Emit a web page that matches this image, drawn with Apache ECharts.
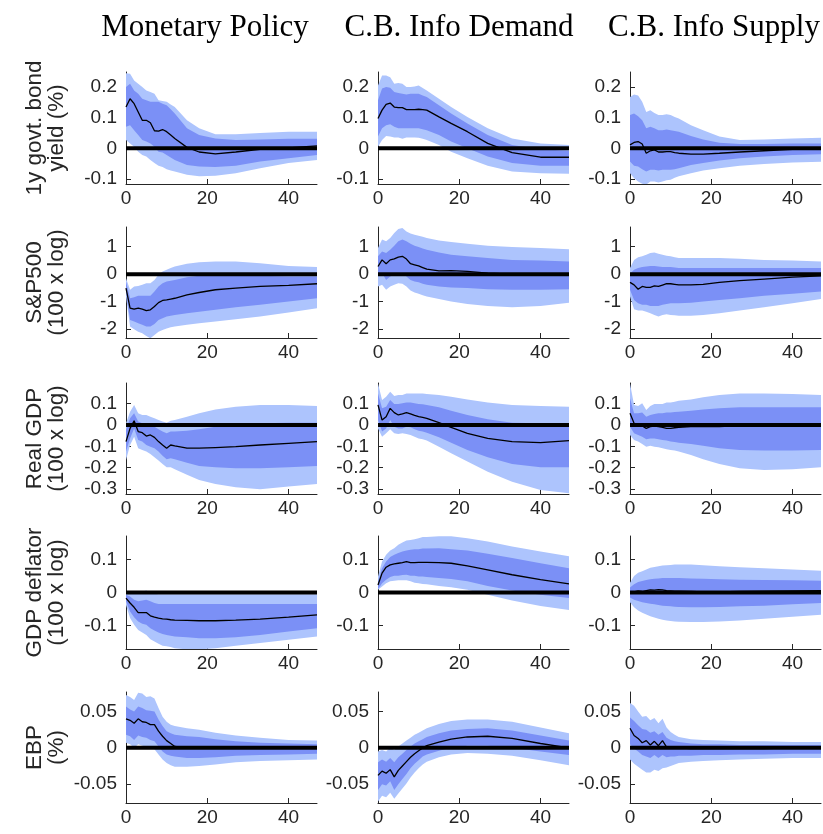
<!DOCTYPE html>
<html>
<head>
<meta charset="utf-8">
<script src="https://cdn.jsdelivr.net/npm/echarts@6/dist/echarts.min.js"></script>
<style>
html, body { margin: 0; padding: 0; background: #ffffff; }
#main { width: 823px; height: 834px; }
</style>
</head>
<body>
<div id="main"></div>
<script>
// Impulse responses: horizon (months) for every series below
const horizons = [0, 1, 2, 3, 4, 5, 6, 7, 8, 9, 10, 11, 12, 15, 18, 22, 27, 33, 40, 47];

const shocks = ['Monetary Policy', 'C.B. Info Demand', 'C.B. Info Supply'];
const variables = ['1y govt. bond\nyield (%)', 'S&P500\n(100 x log)', 'Real GDP\n(100 x log)', 'GDP deflator\n(100 x log)', 'EBP\n(%)'];

const xTicks = [0, 20, 40];
const yTicks = [
  [-0.1, 0, 0.1, 0.2],
  [-2, -1, 0, 1],
  [-0.3, -0.2, -0.1, 0, 0.1],
  [-0.1, 0, 0.1],
  [-0.05, 0, 0.05]
];
const yLimits = [
  [-0.116, 0.248],
  [-2.33, 1.72],
  [-0.324, 0.197],
  [-0.172, 0.172],
  [-0.076, 0.077]
];

// ---- 1y government bond yield ----
const yieldMP_med  = [0.134,0.161,0.145,0.118,0.091,0.091,0.083,0.057,0.056,0.061,0.054,0.043,0.032,0.003,-0.012,-0.018,-0.012,-0.003,0.001,0.008];
const yieldMP_hi90 = [0.244,0.242,0.22,0.21,0.199,0.188,0.183,0.177,0.156,0.154,0.151,0.142,0.134,0.091,0.065,0.046,0.046,0.05,0.054,0.054];
const yieldMP_hi68 = [0.199,0.21,0.188,0.177,0.161,0.156,0.151,0.151,0.151,0.145,0.14,0.127,0.113,0.065,0.043,0.032,0.027,0.029,0.031,0.031];
const yieldMP_lo68 = [0.07,0.075,0.059,0.043,0.027,0.022,0.016,0.005,-0.011,-0.014,-0.022,-0.03,-0.038,-0.054,-0.059,-0.061,-0.057,-0.043,-0.032,-0.022];
const yieldMP_lo90 = [0.027,0.016,0.005,-0.011,-0.022,-0.027,-0.038,-0.048,-0.057,-0.061,-0.068,-0.072,-0.075,-0.086,-0.091,-0.089,-0.081,-0.065,-0.048,-0.038];

const yieldCBD_med  = [0.097,0.124,0.143,0.147,0.134,0.132,0.132,0.126,0.126,0.126,0.127,0.126,0.124,0.102,0.081,0.054,0.016,-0.014,-0.029,-0.029];
const yieldCBD_hi90 = [0.204,0.237,0.237,0.231,0.21,0.212,0.21,0.199,0.199,0.201,0.204,0.196,0.188,0.161,0.134,0.102,0.065,0.032,0.016,0.011];
const yieldCBD_hi68 = [0.156,0.194,0.199,0.197,0.183,0.18,0.177,0.175,0.177,0.177,0.177,0.172,0.167,0.14,0.113,0.081,0.043,0.011,-0.003,-0.008];
const yieldCBD_lo68 = [0.038,0.065,0.075,0.078,0.07,0.065,0.065,0.065,0.065,0.065,0.065,0.062,0.059,0.043,0.022,0.0,-0.027,-0.048,-0.057,-0.057];
const yieldCBD_lo90 = [0.005,0.027,0.04,0.038,0.035,0.035,0.031,0.035,0.035,0.035,0.034,0.031,0.027,0.011,-0.011,-0.032,-0.057,-0.075,-0.081,-0.083];

const yieldCBS_med  = [0.011,0.019,0.022,0.014,-0.016,-0.008,-0.005,-0.012,-0.012,-0.011,-0.011,-0.014,-0.016,-0.019,-0.019,-0.016,-0.012,-0.008,-0.003,0.0];
const yieldCBS_hi90 = [0.167,0.175,0.172,0.151,0.118,0.124,0.115,0.108,0.108,0.111,0.108,0.102,0.097,0.075,0.059,0.038,0.027,0.029,0.032,0.034];
const yieldCBS_hi68 = [0.108,0.113,0.104,0.091,0.065,0.07,0.065,0.059,0.059,0.061,0.059,0.056,0.054,0.04,0.029,0.018,0.014,0.014,0.016,0.016];
const yieldCBS_lo68 = [-0.043,-0.057,-0.059,-0.068,-0.075,-0.07,-0.07,-0.072,-0.07,-0.07,-0.07,-0.068,-0.065,-0.054,-0.048,-0.04,-0.032,-0.027,-0.022,-0.019];
const yieldCBS_lo90 = [-0.081,-0.097,-0.108,-0.115,-0.118,-0.108,-0.108,-0.111,-0.108,-0.104,-0.102,-0.096,-0.091,-0.081,-0.072,-0.065,-0.057,-0.051,-0.046,-0.044];

// ---- S&P500 ----
const spMP_med  = [-0.51,-1.24,-1.28,-1.24,-1.28,-1.33,-1.30,-1.18,-1.04,-0.96,-0.94,-0.91,-0.88,-0.76,-0.67,-0.57,-0.51,-0.45,-0.41,-0.35];
const spMP_hi90 = [-0.15,-0.57,-0.45,-0.43,-0.39,-0.33,-0.33,-0.21,-0.02,0.10,0.16,0.22,0.28,0.38,0.43,0.46,0.46,0.40,0.30,0.26];
const spMP_hi68 = [-0.27,-0.88,-0.84,-0.79,-0.79,-0.79,-0.79,-0.63,-0.45,-0.33,-0.27,-0.24,-0.21,-0.11,-0.06,-0.02,-0.02,-0.06,-0.09,-0.09];
const spMP_lo68 = [-0.63,-1.67,-1.73,-1.79,-1.85,-1.91,-1.91,-1.82,-1.67,-1.61,-1.55,-1.52,-1.49,-1.43,-1.37,-1.30,-1.21,-1.12,-1.00,-0.88];
const spMP_lo90 = [-0.82,-1.91,-2.01,-2.10,-2.16,-2.26,-2.34,-2.22,-2.10,-2.04,-1.98,-1.94,-1.91,-1.85,-1.79,-1.73,-1.65,-1.55,-1.40,-1.24];

const spCBD_med  = [0.28,0.52,0.38,0.52,0.56,0.62,0.65,0.55,0.38,0.34,0.30,0.24,0.18,0.12,0.13,0.10,0.04,0.00,0.00,0.00];
const spCBD_hi90 = [0.95,1.26,1.20,1.32,1.50,1.65,1.68,1.56,1.48,1.44,1.40,1.36,1.32,1.23,1.17,1.11,1.04,0.99,0.95,0.91];
const spCBD_hi68 = [0.65,0.83,0.77,0.89,1.04,1.20,1.26,1.20,1.11,1.04,0.99,0.94,0.89,0.79,0.71,0.65,0.59,0.52,0.50,0.46];
const spCBD_lo68 = [-0.09,0.04,-0.21,-0.09,-0.02,0.04,0.04,-0.09,-0.21,-0.27,-0.30,-0.35,-0.39,-0.45,-0.49,-0.51,-0.55,-0.57,-0.57,-0.55];
const spCBD_lo90 = [-0.45,-0.39,-0.57,-0.45,-0.39,-0.33,-0.35,-0.45,-0.60,-0.67,-0.72,-0.77,-0.82,-0.91,-1.00,-1.09,-1.16,-1.21,-1.16,-1.04];

const spCBS_med  = [-0.30,-0.39,-0.55,-0.45,-0.48,-0.48,-0.43,-0.45,-0.40,-0.35,-0.35,-0.37,-0.39,-0.39,-0.37,-0.30,-0.24,-0.18,-0.11,-0.06];
const spCBS_hi90 = [0.22,0.52,0.62,0.65,0.71,0.77,0.79,0.74,0.71,0.67,0.65,0.62,0.59,0.59,0.59,0.59,0.56,0.52,0.50,0.46];
const spCBS_hi68 = [0.01,0.16,0.22,0.26,0.28,0.30,0.30,0.28,0.26,0.26,0.26,0.24,0.22,0.22,0.22,0.22,0.22,0.22,0.22,0.22];
const spCBS_lo68 = [-0.57,-0.94,-1.06,-1.12,-1.12,-1.16,-1.16,-1.16,-1.12,-1.09,-1.06,-1.06,-1.06,-1.04,-1.00,-0.94,-0.88,-0.79,-0.72,-0.63];
const spCBS_lo90 = [-0.82,-1.28,-1.33,-1.33,-1.37,-1.43,-1.49,-1.55,-1.49,-1.46,-1.49,-1.50,-1.52,-1.52,-1.49,-1.43,-1.33,-1.21,-1.06,-0.91];

// ---- Real GDP ----
const gdpMP_med  = [-0.078,-0.016,0.02,-0.031,-0.036,-0.052,-0.047,-0.058,-0.078,-0.094,-0.109,-0.094,-0.098,-0.109,-0.109,-0.106,-0.102,-0.094,-0.086,-0.078];
const gdpMP_hi90 = [0.008,0.062,0.094,0.055,0.047,0.047,0.039,0.031,0.023,0.016,0.011,0.02,0.023,0.039,0.055,0.073,0.086,0.094,0.094,0.089];
const gdpMP_hi68 = [-0.023,0.031,0.055,0.016,0.008,0.005,0.0,-0.008,-0.02,-0.031,-0.039,-0.031,-0.031,-0.027,-0.02,-0.008,0.0,0.008,0.011,0.011];
const gdpMP_lo68 = [-0.125,-0.063,-0.016,-0.07,-0.078,-0.094,-0.102,-0.109,-0.125,-0.145,-0.161,-0.156,-0.161,-0.177,-0.192,-0.198,-0.203,-0.203,-0.198,-0.192];
const gdpMP_lo90 = [-0.164,-0.094,-0.055,-0.109,-0.117,-0.125,-0.136,-0.152,-0.167,-0.183,-0.198,-0.198,-0.208,-0.234,-0.258,-0.277,-0.292,-0.302,-0.289,-0.277];

const gdpCBD_med  = [0.094,0.023,0.039,0.078,0.058,0.047,0.052,0.058,0.052,0.045,0.039,0.036,0.031,0.011,-0.011,-0.039,-0.063,-0.078,-0.083,-0.073];
const gdpCBD_hi90 = [0.195,0.117,0.133,0.156,0.136,0.141,0.141,0.148,0.148,0.148,0.148,0.148,0.145,0.141,0.133,0.12,0.105,0.094,0.089,0.086];
const gdpCBD_hi68 = [0.148,0.078,0.086,0.117,0.098,0.098,0.102,0.105,0.105,0.102,0.098,0.097,0.094,0.083,0.067,0.047,0.027,0.011,0.008,0.008];
const gdpCBD_lo68 = [0.023,-0.031,-0.016,0.023,-0.008,-0.016,-0.016,-0.008,-0.011,-0.02,-0.027,-0.031,-0.036,-0.058,-0.083,-0.117,-0.152,-0.183,-0.198,-0.198];
const gdpCBD_lo90 = [-0.016,-0.055,-0.039,-0.02,-0.039,-0.042,-0.039,-0.042,-0.047,-0.055,-0.063,-0.067,-0.073,-0.102,-0.133,-0.172,-0.219,-0.266,-0.305,-0.32];

const gdpCBS_med  = [0.055,0.008,0.0,-0.005,-0.016,-0.008,-0.005,-0.008,-0.011,-0.016,-0.016,-0.013,-0.011,-0.008,-0.008,-0.008,-0.003,0.0,0.0,0.0];
const gdpCBS_hi90 = [0.195,0.094,0.089,0.102,0.07,0.089,0.098,0.098,0.098,0.105,0.105,0.109,0.114,0.12,0.13,0.141,0.148,0.148,0.145,0.141];
const gdpCBS_hi68 = [0.125,0.055,0.055,0.058,0.039,0.047,0.052,0.055,0.055,0.058,0.058,0.061,0.062,0.067,0.073,0.078,0.083,0.083,0.083,0.083];
const gdpCBS_lo68 = [-0.008,-0.039,-0.047,-0.055,-0.067,-0.063,-0.063,-0.067,-0.07,-0.073,-0.078,-0.08,-0.083,-0.089,-0.098,-0.109,-0.117,-0.12,-0.12,-0.117];
const gdpCBS_lo90 = [-0.047,-0.07,-0.078,-0.089,-0.102,-0.098,-0.102,-0.105,-0.109,-0.114,-0.117,-0.12,-0.125,-0.141,-0.161,-0.183,-0.203,-0.211,-0.208,-0.198];

// ---- GDP deflator ----
const defMP_med  = [-0.017,-0.032,-0.045,-0.061,-0.061,-0.061,-0.071,-0.075,-0.078,-0.08,-0.081,-0.083,-0.084,-0.085,-0.086,-0.086,-0.084,-0.081,-0.075,-0.068];
const defMP_hi90 = [-0.004,-0.002,0.0,0.003,0.003,0.006,0.0,-0.004,-0.005,-0.005,-0.005,-0.005,-0.005,-0.005,-0.005,-0.005,-0.005,-0.005,-0.005,-0.005];
const defMP_hi68 = [-0.007,-0.012,-0.022,-0.027,-0.024,-0.022,-0.027,-0.032,-0.035,-0.035,-0.035,-0.035,-0.035,-0.035,-0.035,-0.035,-0.035,-0.035,-0.035,-0.035];
const defMP_lo68 = [-0.027,-0.058,-0.075,-0.088,-0.095,-0.098,-0.109,-0.116,-0.122,-0.126,-0.129,-0.132,-0.134,-0.136,-0.139,-0.139,-0.136,-0.129,-0.119,-0.109];
const defMP_lo90 = [-0.038,-0.078,-0.098,-0.114,-0.122,-0.129,-0.142,-0.149,-0.156,-0.162,-0.164,-0.166,-0.17,-0.173,-0.173,-0.17,-0.162,-0.154,-0.144,-0.134];

const defCBD_med  = [0.023,0.059,0.077,0.084,0.087,0.089,0.091,0.094,0.091,0.091,0.092,0.092,0.092,0.091,0.089,0.081,0.069,0.054,0.039,0.026];
const defCBD_hi90 = [0.049,0.094,0.115,0.128,0.135,0.145,0.152,0.158,0.16,0.162,0.165,0.169,0.169,0.171,0.171,0.165,0.155,0.14,0.125,0.11];
const defCBD_hi68 = [0.034,0.074,0.094,0.108,0.115,0.12,0.125,0.128,0.13,0.132,0.132,0.134,0.134,0.135,0.132,0.128,0.118,0.105,0.089,0.074];
const defCBD_lo68 = [0.01,0.028,0.039,0.047,0.051,0.051,0.053,0.054,0.051,0.051,0.049,0.049,0.047,0.044,0.041,0.034,0.02,0.006,-0.007,-0.017];
const defCBD_lo90 = [0.008,0.018,0.028,0.034,0.036,0.037,0.037,0.037,0.034,0.03,0.028,0.026,0.025,0.02,0.016,0.008,-0.007,-0.024,-0.041,-0.053];

const defCBS_med  = [0.0,0.002,0.005,0.003,0.006,0.008,0.007,0.009,0.008,0.006,0.005,0.004,0.004,0.003,0.002,0.002,0.003,0.004,0.005,0.006];
const defCBS_hi90 = [0.03,0.05,0.06,0.065,0.07,0.075,0.078,0.08,0.082,0.083,0.084,0.085,0.085,0.085,0.083,0.08,0.077,0.074,0.07,0.066];
const defCBS_hi68 = [0.015,0.025,0.032,0.035,0.038,0.04,0.042,0.043,0.044,0.044,0.044,0.044,0.044,0.043,0.042,0.04,0.039,0.038,0.037,0.036];
const defCBS_lo68 = [-0.015,-0.022,-0.026,-0.03,-0.032,-0.034,-0.036,-0.038,-0.04,-0.041,-0.042,-0.043,-0.044,-0.045,-0.045,-0.044,-0.042,-0.04,-0.036,-0.032];
const defCBS_lo90 = [-0.03,-0.045,-0.055,-0.062,-0.067,-0.072,-0.076,-0.08,-0.083,-0.085,-0.087,-0.088,-0.089,-0.09,-0.09,-0.088,-0.085,-0.08,-0.074,-0.068];

// ---- Excess bond premium ----
const ebpMP_med  = [0.04,0.038,0.034,0.04,0.036,0.035,0.032,0.032,0.023,0.016,0.01,0.006,0.002,0.0,0.0,0.0,0.0,0.0,0.0,0.0];
const ebpMP_hi90 = [0.073,0.07,0.066,0.076,0.075,0.07,0.071,0.068,0.055,0.043,0.036,0.032,0.03,0.027,0.025,0.021,0.017,0.014,0.011,0.01];
const ebpMP_hi68 = [0.057,0.053,0.05,0.057,0.055,0.052,0.051,0.05,0.039,0.03,0.023,0.02,0.018,0.016,0.015,0.012,0.009,0.007,0.006,0.005];
const ebpMP_lo68 = [0.018,0.016,0.011,0.017,0.015,0.014,0.011,0.009,0.002,-0.005,-0.009,-0.011,-0.012,-0.014,-0.014,-0.013,-0.011,-0.01,-0.009,-0.008];
const ebpMP_lo90 = [0.007,0.005,0.0,0.005,0.003,0.002,0.0,-0.002,-0.009,-0.016,-0.021,-0.024,-0.026,-0.026,-0.025,-0.023,-0.02,-0.018,-0.017,-0.016];

const ebpCBD_med  = [-0.038,-0.032,-0.035,-0.030,-0.040,-0.031,-0.025,-0.019,-0.013,-0.008,-0.004,0.0,0.003,0.008,0.012,0.015,0.016,0.013,0.006,0.0];
const ebpCBD_hi90 = [-0.005,-0.003,-0.005,0.0,-0.003,0.002,0.006,0.010,0.014,0.018,0.021,0.024,0.027,0.033,0.037,0.039,0.039,0.036,0.028,0.020];
const ebpCBD_hi68 = [-0.020,-0.016,-0.019,-0.014,-0.020,-0.013,-0.008,-0.003,0.002,0.006,0.009,0.012,0.015,0.020,0.024,0.026,0.027,0.024,0.017,0.010];
const ebpCBD_lo68 = [-0.058,-0.050,-0.052,-0.046,-0.058,-0.050,-0.043,-0.036,-0.028,-0.022,-0.017,-0.012,-0.009,-0.004,0.0,0.003,0.003,0.0,-0.005,-0.010];
const ebpCBD_lo90 = [-0.074,-0.066,-0.068,-0.062,-0.070,-0.063,-0.056,-0.049,-0.041,-0.034,-0.028,-0.023,-0.019,-0.013,-0.009,-0.007,-0.008,-0.011,-0.017,-0.024];

const ebpCBS_med  = [0.027,0.017,0.013,0.007,0.010,0.004,0.009,0.003,0.010,0.001,0.001,0.0,0.0,-0.001,-0.001,-0.001,-0.001,-0.001,0.0,0.0];
const ebpCBS_hi90 = [0.062,0.058,0.050,0.043,0.044,0.038,0.041,0.034,0.040,0.028,0.022,0.018,0.015,0.012,0.011,0.010,0.009,0.009,0.008,0.008];
const ebpCBS_hi68 = [0.042,0.037,0.031,0.026,0.025,0.021,0.023,0.018,0.022,0.014,0.011,0.009,0.008,0.006,0.005,0.005,0.004,0.004,0.004,0.004];
const ebpCBS_lo68 = [0.005,-0.001,-0.005,-0.010,-0.012,-0.014,-0.010,-0.014,-0.010,-0.013,-0.012,-0.012,-0.011,-0.011,-0.010,-0.010,-0.009,-0.009,-0.008,-0.008];
const ebpCBS_lo90 = [-0.016,-0.022,-0.026,-0.030,-0.034,-0.034,-0.030,-0.032,-0.028,-0.027,-0.025,-0.023,-0.021,-0.019,-0.018,-0.017,-0.016,-0.015,-0.014,-0.014];

// rows = variables, columns = shocks
const panels = [
  [
    { med: yieldMP_med, hi90: yieldMP_hi90, hi68: yieldMP_hi68, lo68: yieldMP_lo68, lo90: yieldMP_lo90 },
    { med: yieldCBD_med, hi90: yieldCBD_hi90, hi68: yieldCBD_hi68, lo68: yieldCBD_lo68, lo90: yieldCBD_lo90 },
    { med: yieldCBS_med, hi90: yieldCBS_hi90, hi68: yieldCBS_hi68, lo68: yieldCBS_lo68, lo90: yieldCBS_lo90 }
  ],
  [
    { med: spMP_med, hi90: spMP_hi90, hi68: spMP_hi68, lo68: spMP_lo68, lo90: spMP_lo90 },
    { med: spCBD_med, hi90: spCBD_hi90, hi68: spCBD_hi68, lo68: spCBD_lo68, lo90: spCBD_lo90 },
    { med: spCBS_med, hi90: spCBS_hi90, hi68: spCBS_hi68, lo68: spCBS_lo68, lo90: spCBS_lo90 }
  ],
  [
    { med: gdpMP_med, hi90: gdpMP_hi90, hi68: gdpMP_hi68, lo68: gdpMP_lo68, lo90: gdpMP_lo90 },
    { med: gdpCBD_med, hi90: gdpCBD_hi90, hi68: gdpCBD_hi68, lo68: gdpCBD_lo68, lo90: gdpCBD_lo90 },
    { med: gdpCBS_med, hi90: gdpCBS_hi90, hi68: gdpCBS_hi68, lo68: gdpCBS_lo68, lo90: gdpCBS_lo90 }
  ],
  [
    { med: defMP_med, hi90: defMP_hi90, hi68: defMP_hi68, lo68: defMP_lo68, lo90: defMP_lo90 },
    { med: defCBD_med, hi90: defCBD_hi90, hi68: defCBD_hi68, lo68: defCBD_lo68, lo90: defCBD_lo90 },
    { med: defCBS_med, hi90: defCBS_hi90, hi68: defCBS_hi68, lo68: defCBS_lo68, lo90: defCBS_lo90 }
  ],
  [
    { med: ebpMP_med, hi90: ebpMP_hi90, hi68: ebpMP_hi68, lo68: ebpMP_lo68, lo90: ebpMP_lo90 },
    { med: ebpCBD_med, hi90: ebpCBD_hi90, hi68: ebpCBD_hi68, lo68: ebpCBD_lo68, lo90: ebpCBD_lo90 },
    { med: ebpCBS_med, hi90: ebpCBS_hi90, hi68: ebpCBS_hi68, lo68: ebpCBS_lo68, lo90: ebpCBS_lo90 }
  ]
];

// ---- layout ----
const colLeft = [126, 378, 630];
const colWidth = 191;
const rowTop = [72, 227, 383, 536, 692];
const rowHeight = [112, 111, 111, 113, 111];
const titleCenter = [200, 454, 709];

const axisColor = '#262626';
const sansFont = 'Liberation Sans';
const outerBand = '#adc4fd';
const innerBand = '#7b90f6';

function bandSeries(idx, hi, lo, color, z) {
  return {
    type: 'custom',
    xAxisIndex: idx,
    yAxisIndex: idx,
    clip: true,
    silent: true,
    z: z,
    data: [[horizons[0], lo[0]]],
    renderItem: function (params, api) {
      const pts = [];
      for (let i = 0; i < horizons.length; i++) pts.push(api.coord([horizons[i], hi[i]]));
      for (let i = horizons.length - 1; i >= 0; i--) pts.push(api.coord([horizons[i], lo[i]]));
      return { type: 'polygon', shape: { points: pts }, style: { fill: color, stroke: null } };
    }
  };
}

const grid = [], xAxis = [], yAxis = [], series = [];

for (let r = 0; r < 5; r++) {
  for (let c = 0; c < 3; c++) {
    const idx = r * 3 + c;
    const p = panels[r][c];
    grid.push({ left: colLeft[c], top: rowTop[r], width: colWidth, height: rowHeight[r], containLabel: false });
    xAxis.push({
      gridIndex: idx, type: 'value', min: 0, max: 47,
      axisLine: { show: true, onZero: false, lineStyle: { color: axisColor, width: 1 } },
      axisTick: { show: true, inside: true, length: 5, customValues: xTicks, lineStyle: { color: axisColor } },
      axisLabel: { customValues: xTicks, fontSize: 19, color: axisColor, fontFamily: sansFont, margin: 5 },
      splitLine: { show: false }
    });
    yAxis.push({
      gridIndex: idx, type: 'value', min: yLimits[r][0], max: yLimits[r][1],
      name: c === 0 ? variables[r] : '',
      nameLocation: 'middle',
      nameGap: 58,
      nameTextStyle: { fontSize: 22.5, lineHeight: 22, color: axisColor, fontFamily: sansFont, align: 'center' },
      axisLine: { show: true, lineStyle: { color: axisColor, width: 1 } },
      axisTick: { show: true, inside: true, length: 5, customValues: yTicks[r], lineStyle: { color: axisColor } },
      axisLabel: { customValues: yTicks[r], fontSize: 19, color: axisColor, fontFamily: sansFont, margin: 9 },
      splitLine: { show: false }
    });
    series.push(bandSeries(idx, p.hi90, p.lo90, outerBand, 1));
    series.push(bandSeries(idx, p.hi68, p.lo68, innerBand, 2));
    series.push({
      type: 'line', xAxisIndex: idx, yAxisIndex: idx, silent: true, z: 3,
      data: [[0, 0], [47, 0]], showSymbol: false, symbol: 'none',
      lineStyle: { color: '#000', width: 4 }
    });
    series.push({
      type: 'line', xAxisIndex: idx, yAxisIndex: idx, silent: true, z: 4,
      data: horizons.map((h, i) => [h, p.med[i]]), showSymbol: false, symbol: 'none',
      lineStyle: { color: '#000', width: 1.3 }
    });
  }
}

const chart = echarts.init(document.getElementById('main'), null, { renderer: 'canvas' });
chart.setOption({
  animation: false,
  backgroundColor: '#ffffff',
  title: shocks.map((s, i) => ({
    text: s, left: titleCenter[i], top: 7, textAlign: 'center',
    textStyle: { fontFamily: 'Liberation Serif', fontSize: 31, fontWeight: 'normal', color: '#000' }
  })),
  grid: grid,
  xAxis: xAxis,
  yAxis: yAxis,
  series: series
});
</script>
</body>
</html>
